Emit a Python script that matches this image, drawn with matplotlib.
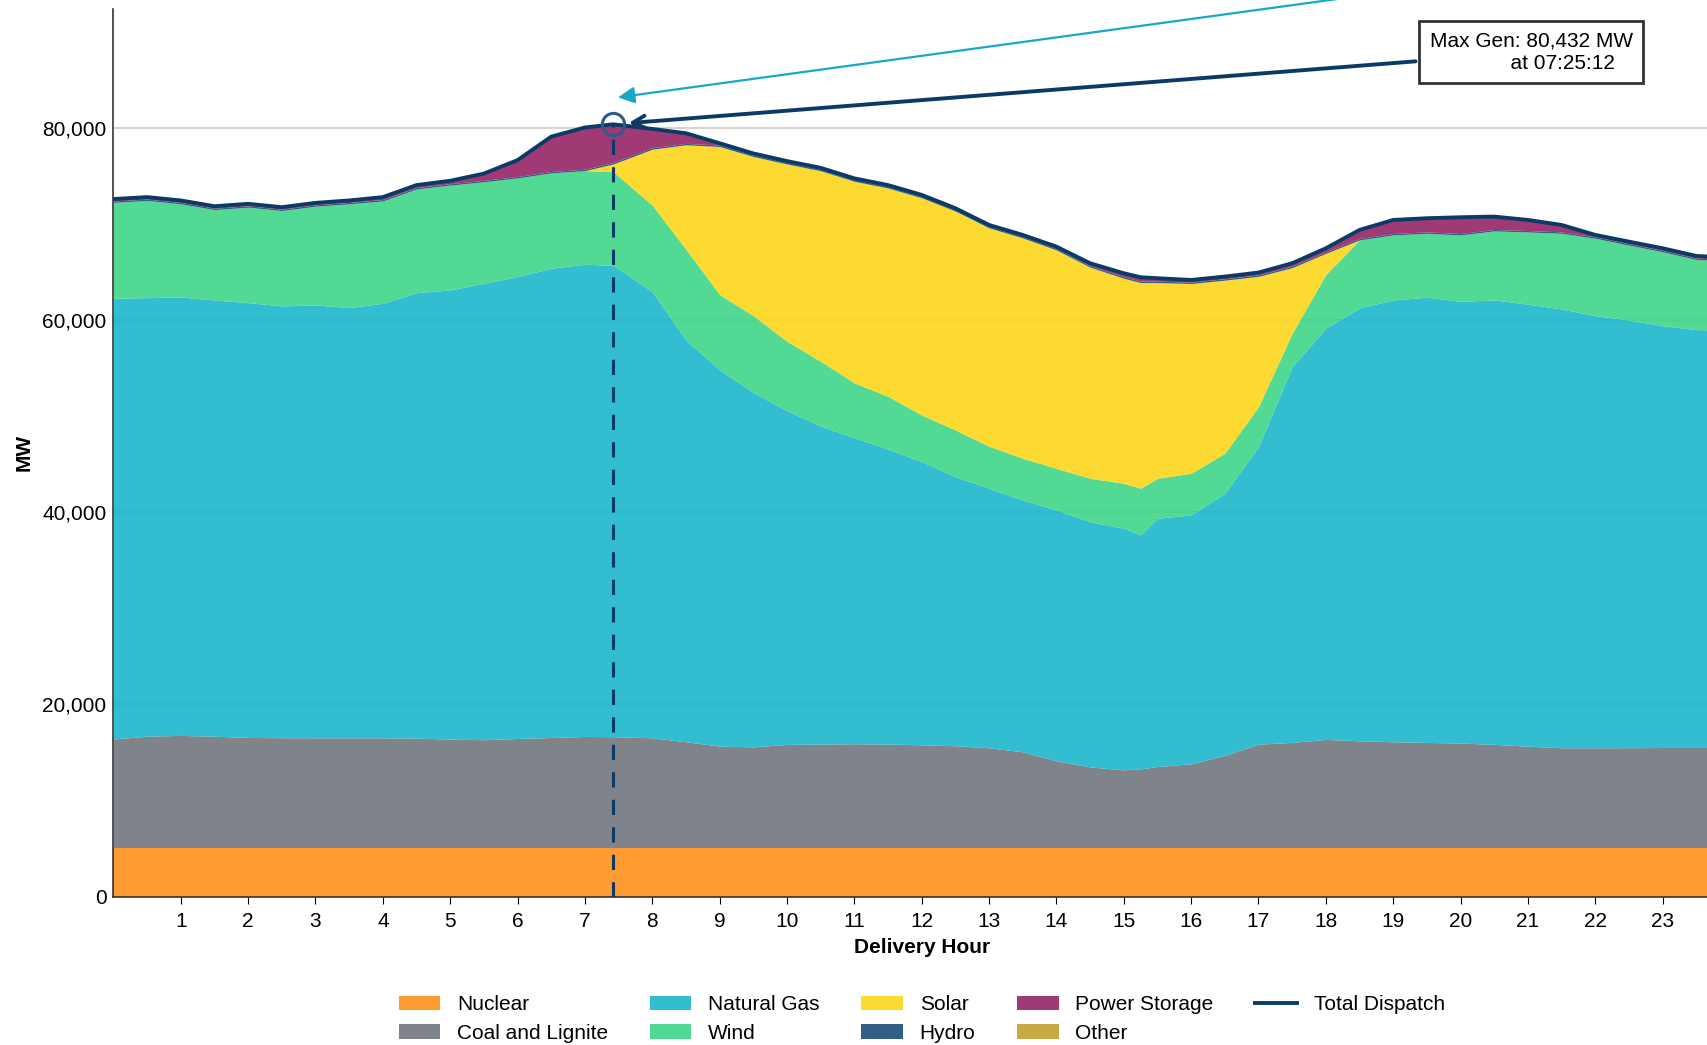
import numpy as np
import matplotlib
matplotlib.use("Agg")
import matplotlib.pyplot as plt
from matplotlib.ticker import FuncFormatter
from matplotlib.patches import Patch
from matplotlib.lines import Line2D

plt.rcParams["font.family"] = ["Liberation Sans", "DejaVu Sans"]
plt.rcParams["font.size"] = 15

# delivery hour of each reading
hours = [0, 0.5, 1, 1.5, 2, 2.5, 3, 3.5, 4, 4.5, 5, 5.5, 6, 6.5, 7, 7.42,
         8, 8.5, 9, 9.5, 10, 10.5, 11, 11.5, 12, 12.5, 13, 13.5, 14, 14.5,
         15, 15.25, 15.5, 16, 16.5, 17, 17.5, 18, 18.5, 19, 19.5, 20, 20.5,
         21, 21.5, 22, 22.5, 23, 23.5, 24]

# generation by fuel, MW
nuclear = [5100] * len(hours)
coal = [11300, 11600, 11680, 11600, 11470, 11440, 11430, 11430, 11430, 11400,
        11300, 11230, 11360, 11460, 11570, 11550, 11430, 11020, 10560, 10490,
        10740, 10780, 10810, 10780, 10700, 10600, 10390, 9970, 9030, 8400,
        8090, 8200, 8440, 8720, 9600, 10770, 10950, 11260, 11120, 11020,
        10950, 10880, 10750, 10560, 10390, 10390, 10400, 10420, 10420, 10420]
gas = [45910, 45680, 45670, 45440, 45290, 44980, 45090, 44810, 45260, 46400,
       46780, 47550, 48110, 48880, 49190, 49100, 46470, 41850, 39190, 36910,
       34760, 33120, 31890, 30720, 29500, 28030, 27030, 26230, 26130, 25540,
       25170, 24360, 25860, 25920, 27300, 30990, 39140, 42840, 45080, 46020,
       46370, 46020, 46290, 46040, 45710, 45010, 44550, 43930, 43530, 43480]
wind = [9990, 10120, 9700, 9410, 9940, 9930, 10280, 10810, 10660, 10800,
        10920, 10570, 10280, 9930, 9750, 9750, 9000, 9450, 7850, 8000,
        7230, 6750, 5700, 5500, 4850, 4860, 4380, 4350, 4340, 4520,
        4680, 4860, 4160, 4350, 4170, 4160, 3480, 5600, 7090, 6770,
        6660, 6910, 7190, 7520, 7880, 8060, 7800, 7700, 7300, 7200]
solar = [0, 0, 0, 0, 0, 0, 0, 0, 0, 0,
         0, 0, 0, 0, 0, 800, 5840, 10880, 15420, 16580,
         18470, 19850, 21000, 21700, 22630, 22810, 22750, 22950, 22750, 21990,
         21360, 21430, 20390, 19760, 18030, 13580, 6830, 2200, 0, 0,
         0, 0, 0, 0, 0, 0, 0, 0, 0, 0]
hydro = [150] * len(hours)
storage = [120, 120, 120, 120, 120, 120, 120, 120, 170, 170,
           220, 620, 1620, 3550, 4260, 3902, 1880, 970, 110, 90,
           70, 70, 70, 70, 70, 60, 70, 80, 110, 180,
           290, 320, 220, 140, 140, 160, 230, 290, 810, 1330,
           1340, 1610, 1260, 1020, 640, 120, 130, 140, 140, 120]
other = [80] * len(hours)

layers = [
    ("Nuclear", nuclear, "#FE901D"),
    ("Coal and Lignite", coal, "#71777F"),
    ("Natural Gas", gas, "#1CB6CB"),
    ("Wind", wind, "#3FD588"),
    ("Solar", solar, "#FDD61C"),
    ("Hydro", hydro, "#1C4C7A"),
    ("Power Storage", storage, "#952466"),
    ("Other", other, "#C2A131"),
]
navy = "#0B3A66"

fig = plt.figure(figsize=(17.08, 10.45), dpi=100)
ax = fig.add_axes([113.4 / 1708, 148.5 / 1045, (1730 - 113.4) / 1708, 888 / 1045])

x = np.array(hours)
base = np.zeros(len(hours))
for name, vals, color in layers:
    top = base + np.array(vals)
    ax.fill_between(x, base, top, color=color, alpha=0.9, linewidth=0, zorder=2)
    base = top
total = base

ax.plot(x, total, color=navy, lw=2.8, zorder=4)

# peak marker
i = int(np.argmax(total))
px, py = x[i], total[i]
secs = int(round(px * 3600))
tstr = f"{secs // 3600:02d}:{secs % 3600 // 60:02d}:{secs % 60:02d}"

ax.plot([px, px], [0, py], ls=(0, (5, 4)), color=navy, lw=2.2, zorder=5)
ax.plot(px, py, "o", mfc="none", mec="#2E5C87", ms=16, mew=2.2, zorder=6)

ax.annotate("", xy=(px + 0.03, 83200), xytext=(26, 101000),
            arrowprops=dict(arrowstyle="-|>", color="#1AA7C9", lw=1.6,
                            mutation_scale=25),
            annotation_clip=False, zorder=7)

ax.annotate(f"Max Gen: {py:,.0f} MW\n{' ' * 14}at {tstr}",
            xy=(px, py), xytext=(21.05, 87940), ha="center", va="center",
            multialignment="left",
            bbox=dict(boxstyle="square,pad=0.5", fc="white", ec="#333333", lw=2),
            arrowprops=dict(arrowstyle="->", color=navy, lw=2.8,
                            mutation_scale=22, shrinkB=11),
            zorder=8)

ax.set_xlim(0, 24)
ax.set_ylim(0, py * 1.15)
ax.set_xticks(range(1, 24))
ax.set_yticks([0, 20000, 40000, 60000, 80000])
ax.yaxis.set_major_formatter(FuncFormatter(lambda v, p: f"{v:,.0f}"))
ax.tick_params(axis="y", length=0, pad=5)
ax.tick_params(axis="x", length=5, pad=6)
ax.yaxis.grid(True, color="#d4d4d4", lw=1.5)
ax.set_axisbelow(True)
for s in ["top", "right"]:
    ax.spines[s].set_visible(False)
for s in ["left", "bottom"]:
    ax.spines[s].set_color("#333333")
    ax.spines[s].set_linewidth(1.2)

ax.set_xlabel("Delivery Hour", fontweight="bold", labelpad=5)
ax.set_ylabel("MW", fontweight="bold", labelpad=6)

handles = [Patch(facecolor=c, alpha=0.9, label=n) for n, v, c in layers]
handles.append(Line2D([], [], color=navy, lw=2.8, label="Total Dispatch"))
ax.legend(handles=handles, loc="upper center", bbox_to_anchor=(0.5, -0.09),
          ncol=5, frameon=False, labelspacing=0.45)

fig.savefig("out.png", dpi=100)
